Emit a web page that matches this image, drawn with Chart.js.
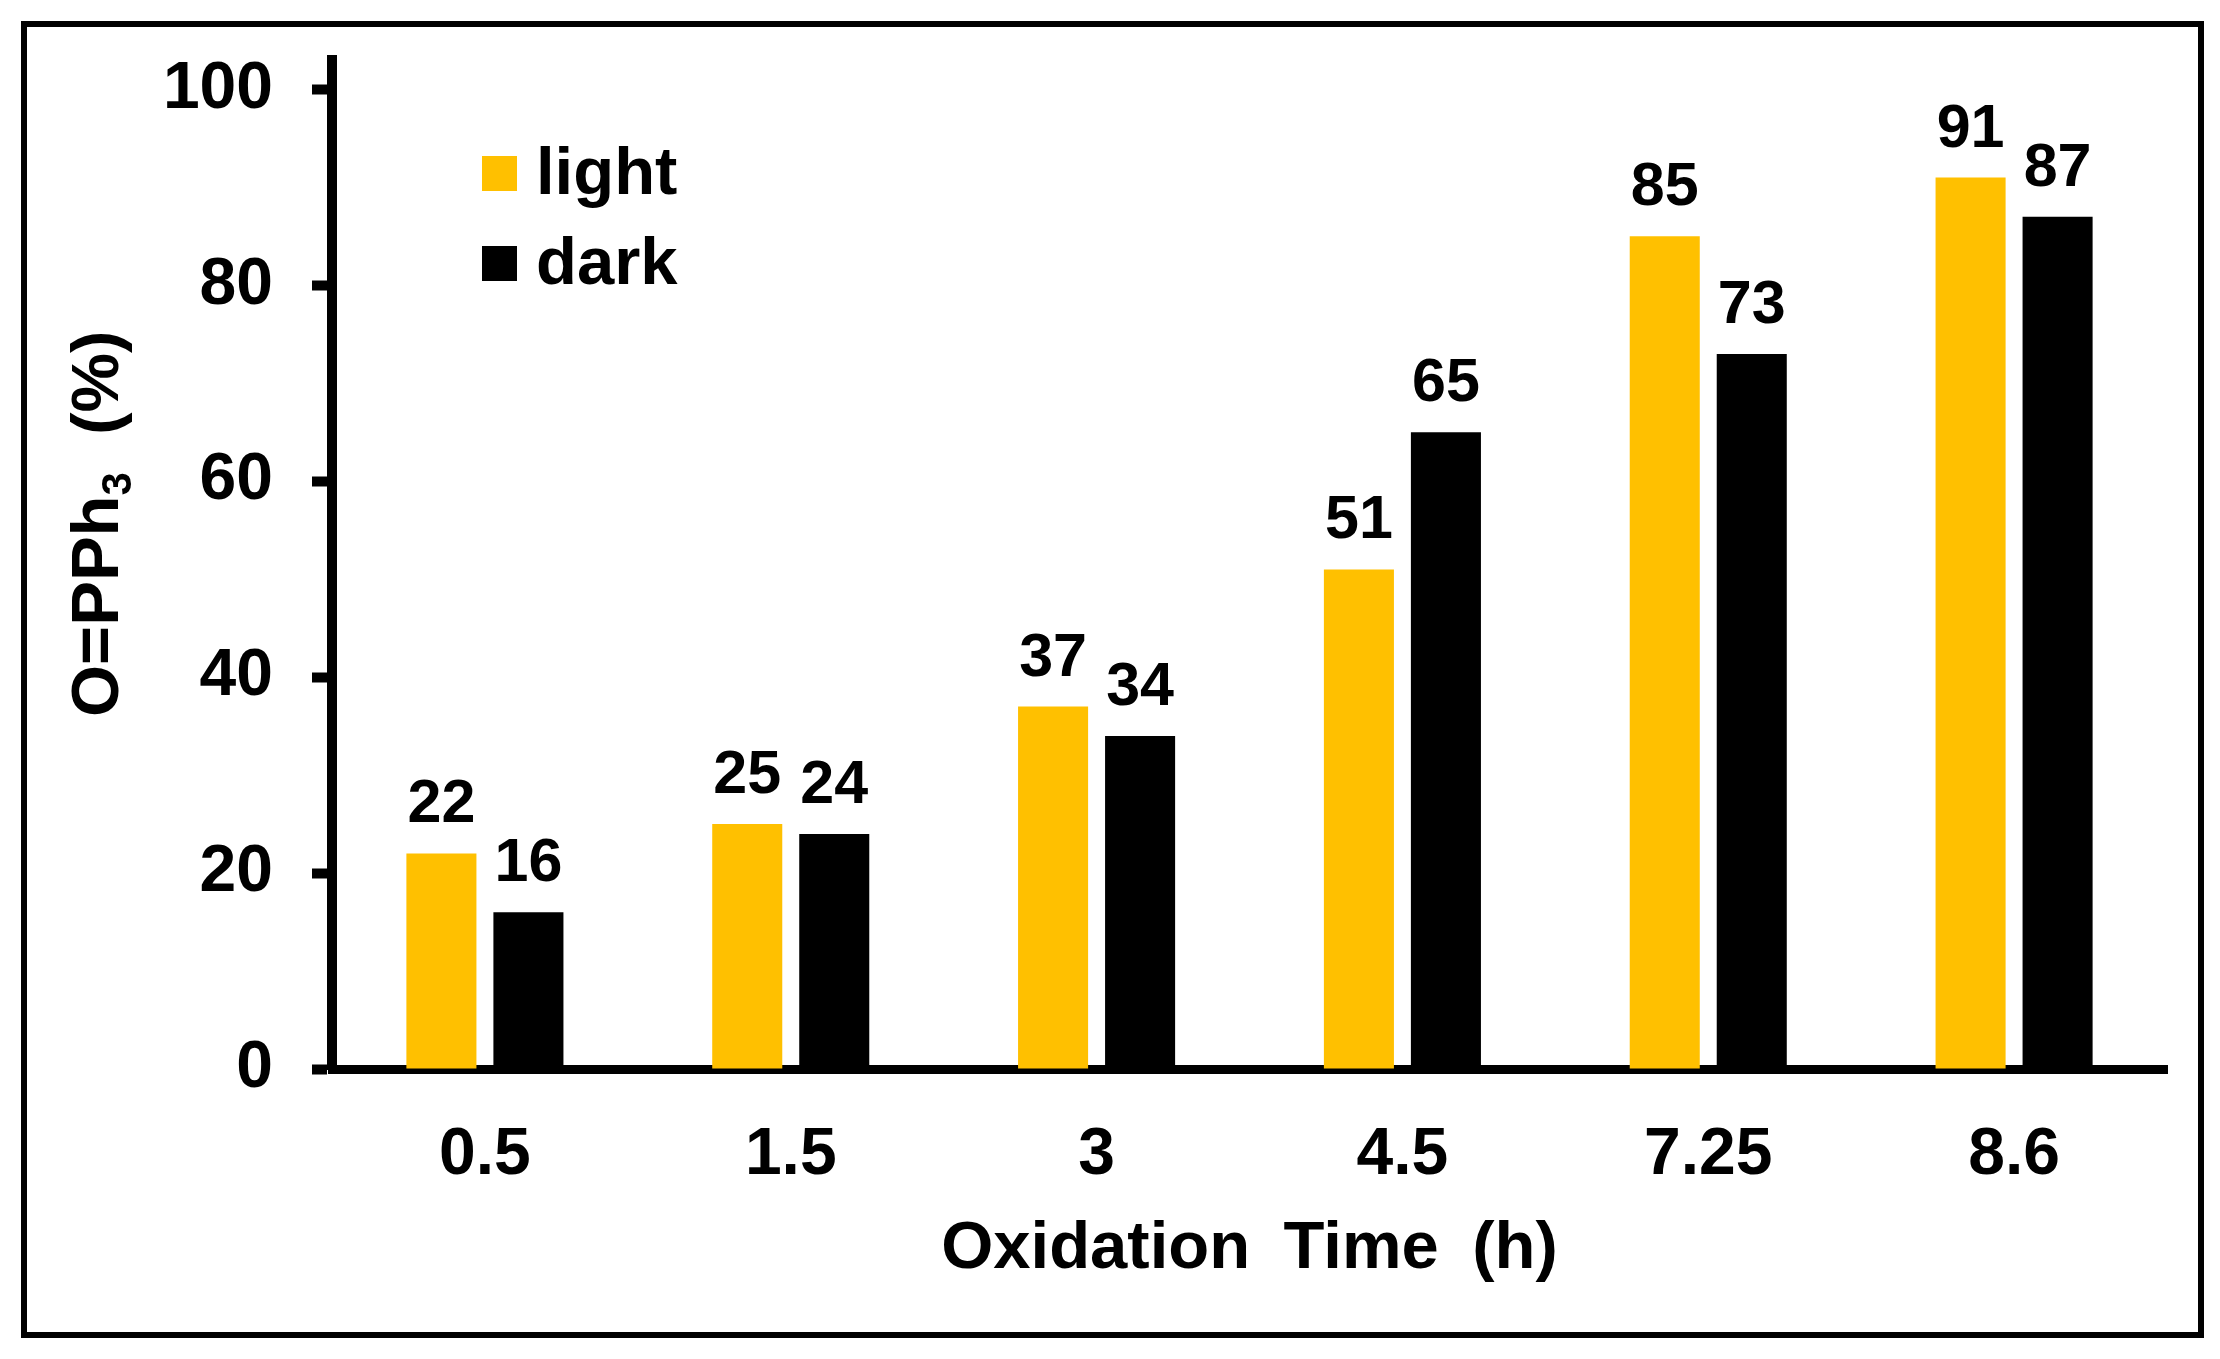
<!DOCTYPE html>
<html>
<head>
<meta charset="utf-8">
<title>O=PPh3 vs oxidation time</title>
<script src="https://cdn.jsdelivr.net/npm/chart.js@4.4.1/dist/chart.umd.min.js"></script>
<style>
  html, body { margin:0; padding:0; background:#fff; }
  #wrap { width:2220px; height:1359px; }
</style>
</head>
<body>
<div id="wrap"><canvas id="oxChart" width="2220" height="1359"></canvas></div>
<script>
/* data */
const timeLabels  = ['0.5', '1.5', '3', '4.5', '7.25', '8.6'];
const lightValues = [22, 25, 37, 51, 85, 91];
const darkValues  = [16, 24, 34, 65, 73, 87];
const seriesNames = ['light', 'dark'];
const yTickStep = 20;

const FONT = '"Liberation Sans", Arial, Helvetica, sans-serif';
const GOLD = '#FFC000';

/* value labels above each bar */
const valueLabels = {
  id:'valueLabels',
  afterDatasetsDraw(chart){
    const ctx = chart.ctx;
    ctx.save();
    ctx.font = 'bold 61px ' + FONT;
    ctx.fillStyle = '#000';
    ctx.textAlign = 'center';
    ctx.textBaseline = 'alphabetic';
    chart.data.datasets.forEach((ds, i)=>{
      chart.getDatasetMeta(i).data.forEach((bar, j)=>{
        ctx.fillText(String(ds.data[j]), bar.x, bar.y - 31);
      });
    });
    ctx.restore();
  }
};

/* frame, axis titles and the inset legend */
const decorations = {
  id:'decorations',
  afterDraw(chart){
    const ctx = chart.ctx, area = chart.chartArea;
    ctx.save();
    // outer frame
    ctx.lineWidth = 6;
    ctx.strokeStyle = '#000';
    ctx.strokeRect(24, 24, 2177, 1311);

    ctx.fillStyle = '#000';
    // x title (a bit wider gaps than a normal space, like the original)
    ctx.font = 'bold 67px ' + FONT;
    ctx.textAlign = 'center';
    ctx.textBaseline = 'alphabetic';
    ctx.fillText('Oxidation\u2002Time\u2002(h)', (area.left + area.right) / 2, 1268);

    // y title with subscript, rotated
    ctx.translate(118, 717);
    ctx.rotate(-Math.PI / 2);
    ctx.textAlign = 'left';
    let x = 0;
    ctx.font = 'bold 67px ' + FONT;
    ctx.fillText('O=PPh', x, 0);
    x += ctx.measureText('O=PPh').width;
    ctx.font = 'bold 42px ' + FONT;
    ctx.fillText('3', x, 13);
    x += ctx.measureText('3').width;
    ctx.font = 'bold 67px ' + FONT;
    ctx.fillText('  (%)', x, 0);
    ctx.restore();

    // legend
    ctx.save();
    ctx.font = 'bold 67px ' + FONT;
    ctx.textBaseline = 'alphabetic';
    chart.data.datasets.forEach((ds, i)=>{
      const top = 156 + i * 90;
      ctx.fillStyle = ds.backgroundColor;
      ctx.fillRect(482, top, 35, 35);
      ctx.fillStyle = '#000';
      ctx.fillText(ds.label, 536, top + 38);
    });
    ctx.restore();
  }
};

new Chart(document.getElementById('oxChart'), {
  type:'bar',
  data:{
    labels: timeLabels,
    datasets:[
      {label: seriesNames[0], data: lightValues, backgroundColor: GOLD, borderWidth:0,
       categoryPercentage:0.569, barPercentage:0.805},
      {label: seriesNames[1], data: darkValues, backgroundColor: '#000000', borderWidth:0,
       categoryPercentage:0.569, barPercentage:0.805}
    ]
  },
  options:{
    responsive:false,
    devicePixelRatio:1,
    animation:false,
    layout:{padding:{left:0, right:53, top:60, bottom:0}},
    plugins:{legend:{display:false}, tooltip:{enabled:false}, title:{display:false}},
    scales:{
      x:{
        z:1,
        grid:{display:false, drawTicks:false},
        border:{display:true, width:9, color:'#000'},
        ticks:{color:'#000', font:{family:FONT, size:66, weight:'bold'}, padding:47, maxRotation:0},
        afterFit(s){ s.height = 290; s.paddingLeft = 0; s.paddingRight = 0; }
      },
      y:{
        min:0, max:103,
        grid:{display:true, drawOnChartArea:false, drawTicks:true, tickLength:20, tickWidth:10, tickColor:'#000'},
        border:{display:true, width:10, color:'#000'},
        ticks:{stepSize:yTickStep, includeBounds:false, color:'#000', padding:39,
               font:{family:FONT, size:66, weight:'bold'}},
        afterFit(s){ s.width = 332; s.paddingTop = 0; s.paddingBottom = 0; }
      }
    }
  },
  plugins:[valueLabels, decorations]
});
</script>
</body>
</html>
